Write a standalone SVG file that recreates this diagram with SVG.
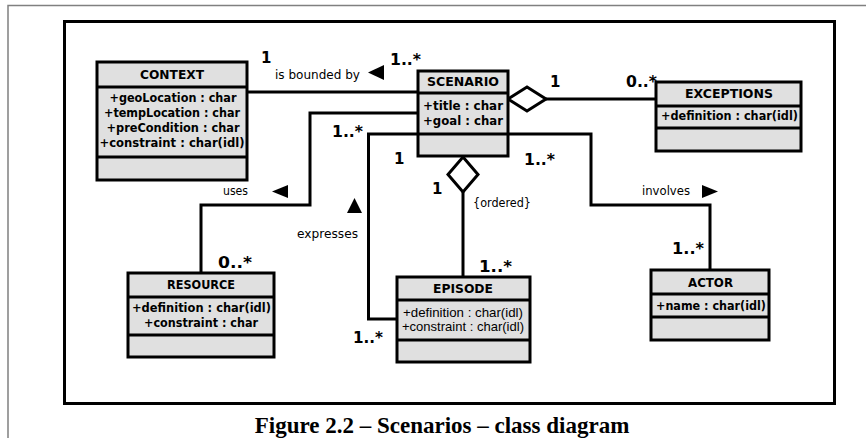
<svg xmlns="http://www.w3.org/2000/svg" width="866" height="438" viewBox="0 0 866 438">
<style>
.box{fill:#e0e0e0;stroke:#000;stroke-width:3}
.dv{stroke:#000;stroke-width:3}
.ln{fill:none;stroke:#000;stroke-width:3}
.dm{fill:#fff;stroke:#000;stroke-width:3}
.tri{fill:#000}
.h{font-family:"DejaVu Sans",sans-serif;font-weight:bold;font-size:12px;text-anchor:middle}
.a{font-family:"DejaVu Sans",sans-serif;font-weight:bold;font-size:11.5px;text-anchor:middle}
.ae{font-family:"Liberation Sans",Arial,sans-serif;font-size:13px;text-anchor:middle}
.lb{font-family:"DejaVu Sans",sans-serif;font-size:12px}
.m{font-family:"DejaVu Sans",sans-serif;font-weight:bold;font-size:15px}
.cap{font-family:"Liberation Serif","Times New Roman",serif;font-weight:bold;font-size:23px;text-anchor:middle}
</style>
<rect width="866" height="438" fill="#fff"/>
<path d="M8,438 V5.5 H866" fill="none" stroke="#808080" stroke-width="1.5"/>
<rect x="64.5" y="21.5" width="770" height="382" fill="none" stroke="#000" stroke-width="3"/>

<g id="connectors">
  <path class="ln" d="M247,92 H418"/>
  <path class="ln" d="M418,113 H310 V205 H201 V273"/>
  <path class="ln" d="M418,134 H368.5 V319 H397"/>
  <path class="ln" d="M508,134 H591 V205 H710 V270"/>
  <path class="ln" d="M546,99 H656"/>
  <path class="ln" d="M463,192 V277"/>
  <polygon class="dm" points="508,99 527,87 546,99 527,111"/>
  <polygon class="dm" points="463,157 478,174.5 463,192 448,174.5"/>
  <polygon class="tri" points="368,72.5 384,65 384,80"/>
  <polygon class="tri" points="272,191.5 288,185 288,198"/>
  <polygon class="tri" points="354.5,198 347,213 362,213"/>
  <polygon class="tri" points="718,191.5 702,185 702,198"/>
  <text class="lb" x="275" y="79" textLength="85" lengthAdjust="spacingAndGlyphs">is bounded by</text>
  <text class="lb" x="223" y="195" textLength="25" lengthAdjust="spacingAndGlyphs">uses</text>
  <text class="lb" x="297" y="238" textLength="61" lengthAdjust="spacingAndGlyphs">expresses</text>
  <text class="lb" x="642" y="195" textLength="48" lengthAdjust="spacingAndGlyphs">involves</text>
  <text class="lb" x="473" y="207" textLength="58" lengthAdjust="spacingAndGlyphs">{ordered}</text>
  <text class="m" x="261" y="63">1</text>
  <text class="m" x="390" y="65" textLength="31" lengthAdjust="spacingAndGlyphs">1..*</text>
  <text class="m" x="550" y="87">1</text>
  <text class="m" x="626" y="87" textLength="31" lengthAdjust="spacingAndGlyphs">0..*</text>
  <text class="m" x="332" y="137" textLength="31" lengthAdjust="spacingAndGlyphs">1..*</text>
  <text class="m" x="394" y="164">1</text>
  <text class="m" x="432" y="194">1</text>
  <text class="m" x="524" y="165" textLength="31" lengthAdjust="spacingAndGlyphs">1..*</text>
  <text class="m" x="218" y="268" textLength="34" lengthAdjust="spacingAndGlyphs">0..*</text>
  <text class="m" x="479" y="272" textLength="33" lengthAdjust="spacingAndGlyphs">1..*</text>
  <text class="m" x="353" y="343" textLength="30" lengthAdjust="spacingAndGlyphs">1..*</text>
  <text class="m" x="672" y="254" textLength="32" lengthAdjust="spacingAndGlyphs">1..*</text>
</g>

<g id="context">
  <rect class="box" x="97" y="62" width="150" height="118"/>
  <line class="dv" x1="97" y1="87" x2="247" y2="87"/>
  <line class="dv" x1="97" y1="157" x2="247" y2="157"/>
  <text class="h" x="172" y="79" textLength="64" lengthAdjust="spacingAndGlyphs">CONTEXT</text>
  <text class="a" x="173" y="102" textLength="127" lengthAdjust="spacingAndGlyphs">+geoLocation : char</text>
  <text class="a" x="172" y="117" textLength="136" lengthAdjust="spacingAndGlyphs">+tempLocation : char</text>
  <text class="a" x="173" y="132" textLength="133" lengthAdjust="spacingAndGlyphs">+preCondition : char</text>
  <text class="a" x="172" y="147" textLength="145" lengthAdjust="spacingAndGlyphs">+constraint : char(idl)</text>
</g>

<g id="scenario">
  <rect class="box" x="418" y="71" width="90" height="85"/>
  <line class="dv" x1="418" y1="93" x2="508" y2="93"/>
  <line class="dv" x1="418" y1="134" x2="508" y2="134"/>
  <text class="h" x="463" y="86" textLength="72" lengthAdjust="spacingAndGlyphs">SCENARIO</text>
  <text class="a" x="463" y="110" textLength="80" lengthAdjust="spacingAndGlyphs">+title : char</text>
  <text class="a" x="463" y="125" textLength="80" lengthAdjust="spacingAndGlyphs">+goal : char</text>
</g>

<g id="exceptions">
  <rect class="box" x="656" y="82" width="145" height="69"/>
  <line class="dv" x1="656" y1="106" x2="801" y2="106"/>
  <line class="dv" x1="656" y1="128" x2="801" y2="128"/>
  <text class="h" x="729" y="98" textLength="88" lengthAdjust="spacingAndGlyphs">EXCEPTIONS</text>
  <text class="a" x="729.5" y="120" textLength="137" lengthAdjust="spacingAndGlyphs">+definition : char(idl)</text>
</g>

<g id="resource">
  <rect class="box" x="128" y="273" width="146" height="84"/>
  <line class="dv" x1="128" y1="297" x2="274" y2="297"/>
  <line class="dv" x1="128" y1="335" x2="274" y2="335"/>
  <text class="h" x="201" y="289" textLength="68" lengthAdjust="spacingAndGlyphs">RESOURCE</text>
  <text class="a" x="201.5" y="312" textLength="139" lengthAdjust="spacingAndGlyphs">+definition : char(idl)</text>
  <text class="a" x="201" y="327" textLength="114" lengthAdjust="spacingAndGlyphs">+constraint : char</text>
</g>

<g id="episode">
  <rect class="box" x="397" y="277" width="133" height="85"/>
  <line class="dv" x1="397" y1="300" x2="530" y2="300"/>
  <line class="dv" x1="397" y1="340" x2="530" y2="340"/>
  <text class="h" x="463" y="293" textLength="60" lengthAdjust="spacingAndGlyphs">EPISODE</text>
  <text class="ae" x="463" y="317" textLength="120" lengthAdjust="spacingAndGlyphs">+definition : char(idl)</text>
  <text class="ae" x="463" y="331" textLength="122" lengthAdjust="spacingAndGlyphs">+constraint : char(idl)</text>
</g>

<g id="actor">
  <rect class="box" x="651" y="270" width="118" height="70"/>
  <line class="dv" x1="651" y1="294" x2="769" y2="294"/>
  <line class="dv" x1="651" y1="317" x2="769" y2="317"/>
  <text class="h" x="710.5" y="287" textLength="45" lengthAdjust="spacingAndGlyphs">ACTOR</text>
  <text class="a" x="711" y="310" textLength="110" lengthAdjust="spacingAndGlyphs">+name : char(idl)</text>
</g>

<text class="cap" x="442" y="433">Figure 2.2 – Scenarios – class diagram</text>
</svg>
